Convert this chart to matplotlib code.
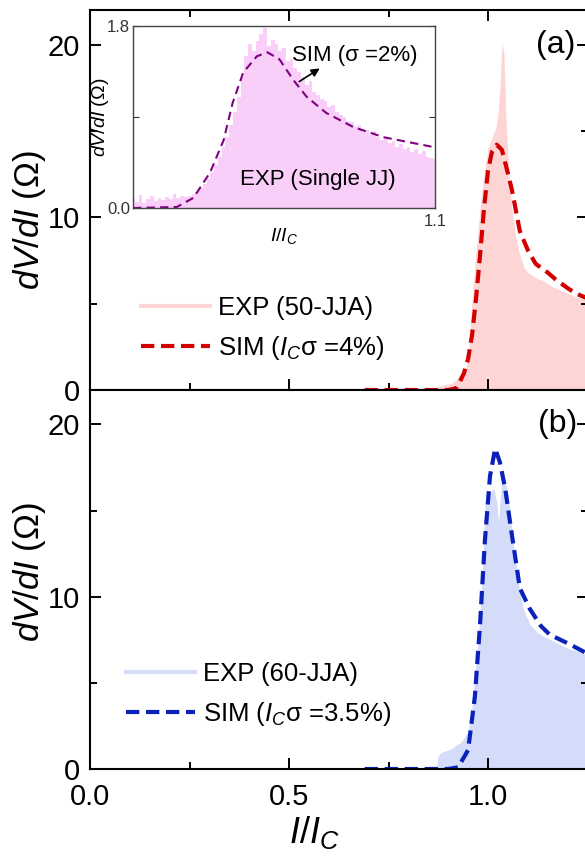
import numpy as np
import matplotlib.pyplot as plt
from matplotlib.ticker import MultipleLocator

plt.rcParams['font.family'] = 'Liberation Sans'
plt.rcParams['mathtext.fontset'] = 'custom'
plt.rcParams['mathtext.rm'] = 'Liberation Sans'
plt.rcParams['mathtext.it'] = 'Liberation Sans:italic'

# (a) 50-JJA
xa_exp = [0.86, 0.87, 0.88, 0.89, 0.90, 0.91, 0.92, 0.93, 0.935, 0.94, 0.945, 0.95, 0.955, 0.96, 0.97, 0.98,
          0.99, 1.0, 1.01, 1.02, 1.025, 1.03, 1.035, 1.04, 1.045, 1.05, 1.055, 1.06, 1.065, 1.07, 1.08,
          1.09, 1.10, 1.12, 1.14, 1.16, 1.18, 1.20, 1.22, 1.25]
ya_exp = [0.0, 0.1, 0.25, 0.3, 0.35, 0.4, 0.6, 0.9, 1.0, 1.1, 1.3, 2.0, 3.5, 5.2, 8.0, 10.5,
          12.5, 14.0, 14.6, 15.2, 16.0, 17.5, 20.1, 19.5, 15.8, 13.5, 11.8, 10.5, 9.6, 8.8, 7.8,
          7.1, 6.8, 6.5, 6.3, 6.0, 5.8, 5.6, 5.4, 5.2]
xa_sim = [0.69, 0.80, 0.90, 0.92, 0.93, 0.94, 0.95, 0.96, 0.97, 0.98, 0.99, 1.0, 1.01, 1.022,
          1.035, 1.045, 1.06, 1.08, 1.10, 1.12, 1.15, 1.17, 1.20, 1.22, 1.25]
ya_sim = [0.0, 0.0, 0.0, 0.1, 0.5, 1.0, 1.8, 3.2, 5.3, 7.8, 10.5, 12.7, 13.8, 14.2,
          13.9, 13.0, 11.6, 9.2, 8.1, 7.3, 6.8, 6.4, 5.9, 5.6, 5.3]

# (b) 60-JJA
xb_exp = [0.87, 0.875, 0.885, 0.90, 0.91, 0.92, 0.93, 0.94, 0.95, 0.96, 0.965, 0.972, 0.98, 0.985,
          0.993, 1.005, 1.015, 1.022, 1.026, 1.03, 1.035, 1.04, 1.05, 1.063, 1.08, 1.09, 1.105,
          1.125, 1.148, 1.175, 1.20, 1.225, 1.25]
yb_exp = [0.0, 0.8, 1.0, 1.1, 1.2, 1.4, 1.5, 1.8, 2.2, 3.5, 5.0, 6.5, 9.0, 11.0,
          15.5, 16.0, 16.3, 15.5, 14.3, 15.5, 16.8, 17.0, 16.0, 13.2, 10.3, 9.2, 8.4,
          7.9, 7.6, 7.3, 7.0, 6.85, 6.6]
xb_sim = [0.69, 0.80, 0.90, 0.925, 0.95, 0.967, 0.98, 0.992, 1.005, 1.018, 1.03, 1.043, 1.06,
          1.08, 1.105, 1.133, 1.155, 1.20, 1.25]
yb_sim = [0.0, 0.0, 0.0, 0.1, 1.1, 4.2, 8.4, 13.2, 17.0, 18.6, 17.8, 16.3, 13.6,
          10.5, 9.3, 8.3, 7.8, 7.3, 6.7]

# inset, single JJ (bins of 0.0025 from 0.9 to 1.1)
xi_exp = np.linspace(0.9, 1.1, 81)
yi_exp = [0.1, 0.06, 0.13, 0.05, 0.09, 0.12, 0.07, 0.1, 0.08, 0.11, 0.09, 0.14, 0.1, 0.12, 0.11,
          0.12, 0.14, 0.16, 0.2, 0.24, 0.29, 0.36, 0.43, 0.5, 0.6,
          0.7, 0.82, 0.95, 1.1, 1.3, 1.5, 1.62, 1.55, 1.65, 1.72,
          1.78, 1.6, 1.66, 1.62, 1.55, 1.58, 1.45, 1.47, 1.38, 1.35,
          1.3, 1.22, 1.26, 1.15, 1.12, 1.08, 1.06, 1.0, 1.02, 0.95,
          0.92, 0.9, 0.86, 0.85, 0.8, 0.82, 0.76, 0.77, 0.72, 0.76,
          0.7, 0.67, 0.7, 0.64, 0.66, 0.6, 0.63, 0.58, 0.6, 0.55,
          0.58, 0.53, 0.56, 0.5, 0.49, 0.48]
xi_sim = [0.9, 0.929, 0.94, 0.951, 0.96, 0.966, 0.973, 0.982, 0.989, 0.997, 1.006, 1.015,
          1.028, 1.046, 1.066, 1.1]
yi_sim = [0.0, 0.01, 0.1, 0.35, 0.67, 1.04, 1.34, 1.5, 1.54, 1.47, 1.27, 1.1,
          0.94, 0.8, 0.7, 0.6]

fig = plt.figure(figsize=(5.85, 8.57), dpi=100)
W, H = 585, 857
axa = fig.add_axes([90/W, 1-390/H, 497.5/W, 380/H])
axb = fig.add_axes([90/W, 1-769/H, 497.5/W, 379/H])

dash = (3.2, 1.6)
for ax, xe, ye, xs, ys, fc, lc, lab1, lab2 in [
        (axa, xa_exp, ya_exp, xa_sim, ya_sim, '#fdd5d5', '#d40000', 'EXP (50-JJA)', r'SIM ($I_C$σ =4%)'),
        (axb, xb_exp, yb_exp, xb_sim, yb_sim, '#d5dcfa', '#0a22bb', 'EXP (60-JJA)', r'SIM ($I_C$σ =3.5%)')]:
    ax.fill_between(xe, 0, ye, color=fc, lw=0)
    ax.plot([], [], color=fc, lw=3, label=lab1)
    ax.plot(xs, ys, color=lc, lw=3, dashes=dash, label=lab2)
    ax.set_xlim(0, 1.25)
    ax.set_ylim(0, 22)
    ax.xaxis.set_major_locator(MultipleLocator(0.5))
    ax.xaxis.set_minor_locator(MultipleLocator(0.25))
    ax.yaxis.set_major_locator(MultipleLocator(10))
    ax.yaxis.set_minor_locator(MultipleLocator(5))
    ax.tick_params(which='both', direction='in', width=1.4, right=True, labelsize=21, pad=7)
    ax.tick_params(which='major', length=8)
    ax.tick_params(which='minor', length=5)
    for s in ax.spines.values():
        s.set_linewidth(1.5)

axa.tick_params(which='both', top=True, labelbottom=False)
axb.set_xticks([0.0, 0.5, 1.0])
axb.set_xticklabels(['0.0', '0.5', '1.0'])
axb.tick_params(axis='x', pad=10)

axa.legend(loc='upper left', bbox_to_anchor=(0.076, 0.282), frameon=False, fontsize=18.5,
           handlelength=2.7, handletextpad=0.3, labelspacing=0.55, borderpad=0)
axb.legend(loc='upper left', bbox_to_anchor=(0.046, 0.316), frameon=False, fontsize=18.5,
           handlelength=2.7, handletextpad=0.3, labelspacing=0.55, borderpad=0)

axa.text(1.219, 20, '(a)', fontsize=23, ha='right', va='center')
axb.text(1.224, 20, '(b)', fontsize=23, ha='right', va='center')

fig.text(29/W, 1-220/H, r'$dV/dI$ ($\Omega$)', rotation=90, ha='center', va='center', fontsize=25)
fig.text(29/W, 1-572/H, r'$dV/dI$ ($\Omega$)', rotation=90, ha='center', va='center', fontsize=25)
fig.text(289/W, 1-843/H, r'$I/I_C$', ha='left', va='baseline', fontsize=26)

# inset
axi = fig.add_axes([133/W, 1-208/H, 302/W, 182/H])
axi.fill_between(xi_exp, 0, yi_exp, step='mid', color='#f9cff9', lw=0)
axi.plot(xi_sim, yi_sim, color='#800080', lw=1.5, dashes=(4, 2.5))
axi.set_xlim(0.9, 1.1)
axi.set_ylim(0, 1.8)
axi.set_xticks([1.1])
axi.set_xticklabels(['1.1'])
axi.set_yticks([0.0, 0.9, 1.8])
axi.set_yticklabels(['0.0', '', '1.8'])
axi.tick_params(direction='in', right=True, length=4, width=0.8, labelsize=12, pad=2, colors='#333333')
axi.tick_params(axis='x', length=0, pad=4)
for s in axi.spines.values():
    s.set_linewidth(1.0)
    s.set_color('#444444')
axi.set_ylabel(r'$dV/dI$ ($\Omega$)', fontsize=14, labelpad=-3)
axi.set_xlabel(r'$I/I_C$', fontsize=14, labelpad=-2)
axi.annotate('', xy=(1.0252, 1.395), xytext=(1.0086, 1.236),
             arrowprops=dict(arrowstyle='-|>', color='black', lw=1.2, mutation_scale=12))
axi.text(1.0053, 1.513, 'SIM (σ =2%)', fontsize=16, ha='left', va='center')
axi.text(0.9709, 0.277, 'EXP (Single JJ)', fontsize=16, ha='left', va='center')

fig.savefig('out.png', dpi=100)
